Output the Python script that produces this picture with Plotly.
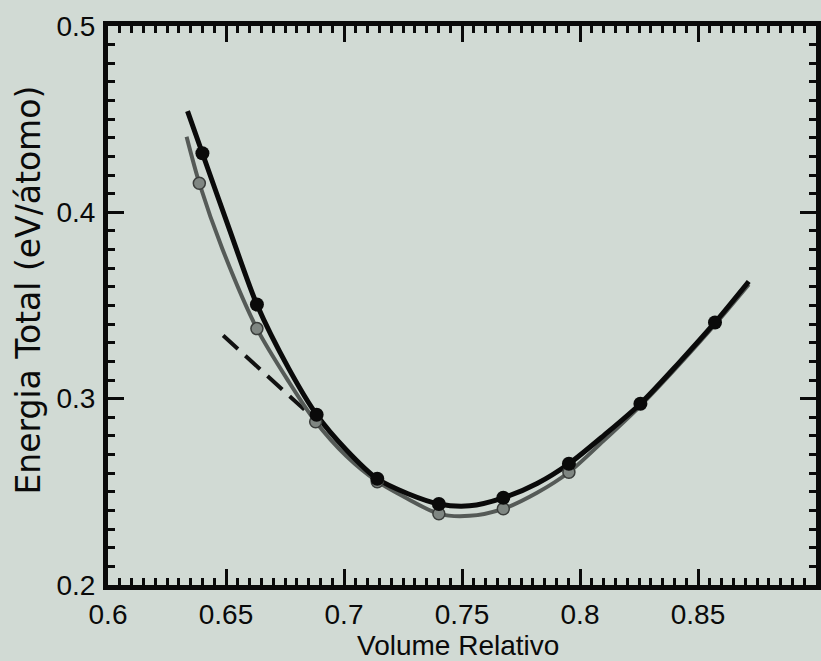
import plotly.graph_objects as go

# Calculated points (black series)
vol_black = [0.6400, 0.6631, 0.6884, 0.7141, 0.7402, 0.7675, 0.7953, 0.8256, 0.8572]
en_black = [0.4317, 0.3505, 0.2914, 0.2570, 0.2435, 0.2468, 0.2651, 0.2973, 0.3409]

# Calculated points (gray series)
vol_gray = [0.6387, 0.6631, 0.6880, 0.7141, 0.7402, 0.7675, 0.7953]
en_gray = [0.4156, 0.3376, 0.2876, 0.2554, 0.2382, 0.2409, 0.2605]

# Fitted curve (black)
fit_black_v = [0.6337, 0.6400, 0.6513, 0.6631, 0.6766, 0.6884, 0.7010, 0.7141, 0.7271,
               0.7402, 0.7532, 0.7675, 0.7818, 0.7953, 0.8104, 0.8256, 0.8416, 0.8572,
               0.8715]
fit_black_e = [0.4543, 0.4317, 0.3914, 0.3505, 0.3161, 0.2914, 0.2725, 0.2570, 0.2490,
               0.2435, 0.2425, 0.2468, 0.2545, 0.2651, 0.2806, 0.2973, 0.3188, 0.3409,
               0.3629]

# Fitted curve (gray)
fit_gray_v = [0.6333, 0.6387, 0.6484, 0.6631, 0.6766, 0.6880, 0.7010, 0.7141, 0.7271,
              0.7402, 0.7532, 0.7675, 0.7818, 0.7953, 0.8104, 0.8256, 0.8416, 0.8572,
              0.8715]
fit_gray_e = [0.4405, 0.4156, 0.3806, 0.3376, 0.3091, 0.2876, 0.2692, 0.2556, 0.2462,
              0.2382, 0.2371, 0.2409, 0.2495, 0.2605, 0.2779, 0.2962, 0.3177, 0.3398,
              0.3613]

# Dashed reference line
dash_v = [0.6488, 0.6880]
dash_e = [0.3339, 0.2886]

x_ticks = [0.6, 0.65, 0.7, 0.75, 0.8, 0.85]
x_ticklabels = ["0.6", "0.65", "0.7", "0.75", "0.8", "0.85"]
y_ticks = [0.2, 0.3, 0.4, 0.5]
y_ticklabels = ["0.2", "0.3", "0.4", "0.5"]

bg = "#d1dad4"

fig = go.Figure()
fig.add_trace(go.Scatter(x=dash_v, y=dash_e, mode="lines",
                         line=dict(color="#111111", width=4, dash="20px,10px"),
                         showlegend=False))
fig.add_trace(go.Scatter(x=fit_gray_v, y=fit_gray_e, mode="lines",
                         line=dict(color="#555a57", width=4, shape="spline", smoothing=0.8),
                         showlegend=False))
fig.add_trace(go.Scatter(x=fit_black_v, y=fit_black_e, mode="lines",
                         line=dict(color="#0a0a0a", width=5, shape="spline", smoothing=0.8),
                         showlegend=False))
fig.add_trace(go.Scatter(x=vol_gray, y=en_gray, mode="markers",
                         marker=dict(color="#7f8682", size=12,
                                     line=dict(color="#3a3d3b", width=1.5)),
                         showlegend=False))
fig.add_trace(go.Scatter(x=vol_black, y=en_black, mode="markers",
                         marker=dict(color="#0a0a0a", size=14),
                         showlegend=False))

axis_common = dict(
    showgrid=False, zeroline=False, showline=True, linecolor="#0a0a0a",
    linewidth=5, mirror="ticks", ticks="inside", ticklen=16, tickwidth=3,
    tickcolor="#0a0a0a",
    tickfont=dict(family="Liberation Sans, Arial, sans-serif", size=28, color="#0a0a0a"),
)

fig.update_xaxes(range=[0.6, 0.9], tickvals=x_ticks, ticktext=x_ticklabels,
                 minor=dict(dtick=0.005, ticks="inside", ticklen=7, tickwidth=3,
                            tickcolor="#0a0a0a", showgrid=False),
                 ticklabelstandoff=0,
                 **axis_common)
fig.update_yaxes(range=[0.2, 0.5], tickvals=y_ticks, ticktext=y_ticklabels,
                 minor=dict(dtick=0.01, ticks="inside", ticklen=7, tickwidth=3,
                            tickcolor="#0a0a0a", showgrid=False),
                 ticklabelstandoff=2,
                 **axis_common)

fig.update_layout(
    width=821, height=661,
    margin=dict(l=108, r=0, t=26, b=76),
    paper_bgcolor=bg, plot_bgcolor=bg,
    showlegend=False,
    annotations=[
        dict(text="Volume Relativo", xref="paper", yref="paper", x=0.495, y=-0.109,
             showarrow=False, xanchor="center", yanchor="middle",
             font=dict(family="Liberation Sans, Arial, sans-serif", size=28, color="#0a0a0a")),
        dict(text="Energia Total (eV/átomo)", xref="paper", yref="paper", x=-0.112, y=0.528,
             showarrow=False, xanchor="center", yanchor="middle", textangle=-90,
             font=dict(family="DejaVu Sans, sans-serif", size=33, color="#0a0a0a")),
    ],
)

fig.write_html("out.html")
